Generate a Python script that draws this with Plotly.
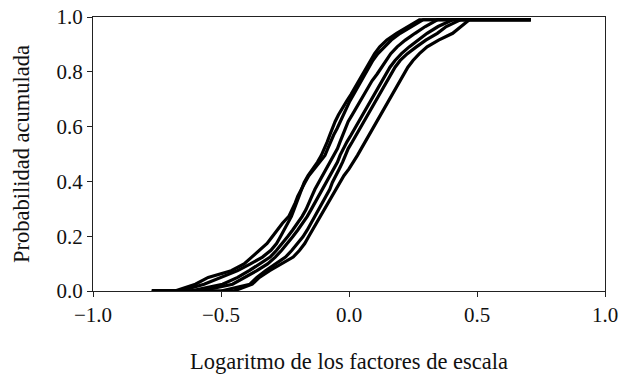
import plotly.graph_objects as go

# Sorted samples (log of scale factors) behind each empirical CDF curve
curve_a = [-0.600, -0.550, -0.460, -0.410, -0.380, -0.350, -0.320, -0.300, -0.280, -0.260,
           -0.235, -0.222, -0.210, -0.200, -0.187, -0.172, -0.157, -0.137, -0.115, -0.094,
           -0.083, -0.072, -0.060, -0.046, -0.034, -0.024, -0.012, 0.003, 0.018, 0.033,
           0.048, 0.063, 0.078, 0.093, 0.113, 0.138, 0.165, 0.200, 0.245, 0.290]
curve_b = [-0.566, -0.500, -0.435, -0.385, -0.338, -0.305, -0.283, -0.268, -0.253, -0.238,
           -0.225, -0.215, -0.205, -0.195, -0.185, -0.175, -0.160, -0.140, -0.123, -0.108,
           -0.095, -0.085, -0.075, -0.065, -0.054, -0.041, -0.026, -0.009, 0.008, 0.023,
           0.038, 0.053, 0.068, 0.083, 0.100, 0.120, 0.148, 0.186, 0.228, 0.275]
curve_c = [-0.494, -0.435, -0.390, -0.348, -0.308, -0.283, -0.260, -0.240, -0.220, -0.200,
           -0.183, -0.168, -0.155, -0.145, -0.133, -0.118, -0.103, -0.088, -0.073, -0.058,
           -0.045, -0.035, -0.025, -0.015, -0.003, 0.013, 0.028, 0.043, 0.058, 0.073,
           0.090, 0.110, 0.128, 0.143, 0.163, 0.188, 0.220, 0.258, 0.298, 0.345]
curve_d = [-0.455, -0.405, -0.360, -0.318, -0.288, -0.263, -0.240, -0.220, -0.200, -0.180,
           -0.163, -0.148, -0.133, -0.118, -0.103, -0.088, -0.073, -0.058, -0.045, -0.035,
           -0.023, -0.008, 0.008, 0.023, 0.038, 0.053, 0.068, 0.083, 0.098, 0.113,
           0.128, 0.143, 0.160, 0.180, 0.205, 0.235, 0.268, 0.305, 0.348, 0.405]
curve_e = [-0.387, -0.360, -0.325, -0.288, -0.248, -0.223, -0.200, -0.180, -0.163, -0.148,
           -0.133, -0.118, -0.103, -0.088, -0.075, -0.065, -0.053, -0.038, -0.025, -0.015,
           -0.003, 0.013, 0.028, 0.043, 0.058, 0.073, 0.088, 0.103, 0.118, 0.133,
           0.148, 0.163, 0.180, 0.200, 0.228, 0.263, 0.300, 0.345, 0.380, 0.435]
curve_f = [-0.378, -0.350, -0.310, -0.265, -0.218, -0.193, -0.173, -0.158, -0.143, -0.128,
           -0.113, -0.098, -0.083, -0.068, -0.053, -0.038, -0.020, 0.000, 0.018, 0.033,
           0.048, 0.063, 0.078, 0.093, 0.108, 0.123, 0.138, 0.153, 0.168, 0.183,
           0.198, 0.213, 0.230, 0.250, 0.275, 0.305, 0.350, 0.405, 0.440, 0.470]

# Where each curve leaves zero
rise_start = [-0.68, -0.66, -0.62, -0.58, -0.50, -0.45]

# Common flat tails drawn in the figure
tail_start_x = -0.77
tail_end_x = 0.71
cdf_top = 0.99

x_ticks = [-1.0, -0.5, 0.0, 0.5, 1.0]
y_ticks = [0.0, 0.2, 0.4, 0.6, 0.8, 1.0]

font_family = "Liberation Serif"

fig = go.Figure()
curves = [curve_a, curve_b, curve_c, curve_d, curve_e, curve_f]
for samples, x0 in zip(curves, rise_start):
    n = len(samples)
    xs = [tail_start_x, x0] + samples + [tail_end_x]
    ys = [0.0, 0.0] + [cdf_top * (i + 1) / n for i in range(n)] + [cdf_top]
    fig.add_trace(go.Scatter(
        x=xs, y=ys, mode="lines",
        line=dict(color="black", width=3.2),
        showlegend=False, hoverinfo="skip",
    ))

axis_common = dict(
    showgrid=False, zeroline=False, showline=True, linecolor="#222", linewidth=1,
    mirror=True, ticks="outside", ticklen=5, tickwidth=1, tickcolor="#222",
    automargin=False,
    tickfont=dict(family=font_family, size=21, color="#111"),
)

fig.update_layout(
    width=632, height=374,
    margin=dict(l=93, r=27, t=17, b=83),
    paper_bgcolor="white", plot_bgcolor="white",
    font=dict(family=font_family, color="#111"),
    xaxis=dict(range=[-1.0, 1.0], tickvals=x_ticks, tickformat=".1f",
               title=dict(text="Logaritmo de los factores de escala",
                          font=dict(family=font_family, size=22.5), standoff=29),
               **axis_common),
    yaxis=dict(range=[0.0, 1.0], tickvals=y_ticks, tickformat=".1f",
               title=dict(text="Probabilidad acumulada",
                          font=dict(family=font_family, size=22.5), standoff=20),
               **axis_common),
)

fig.write_html("out.html")
